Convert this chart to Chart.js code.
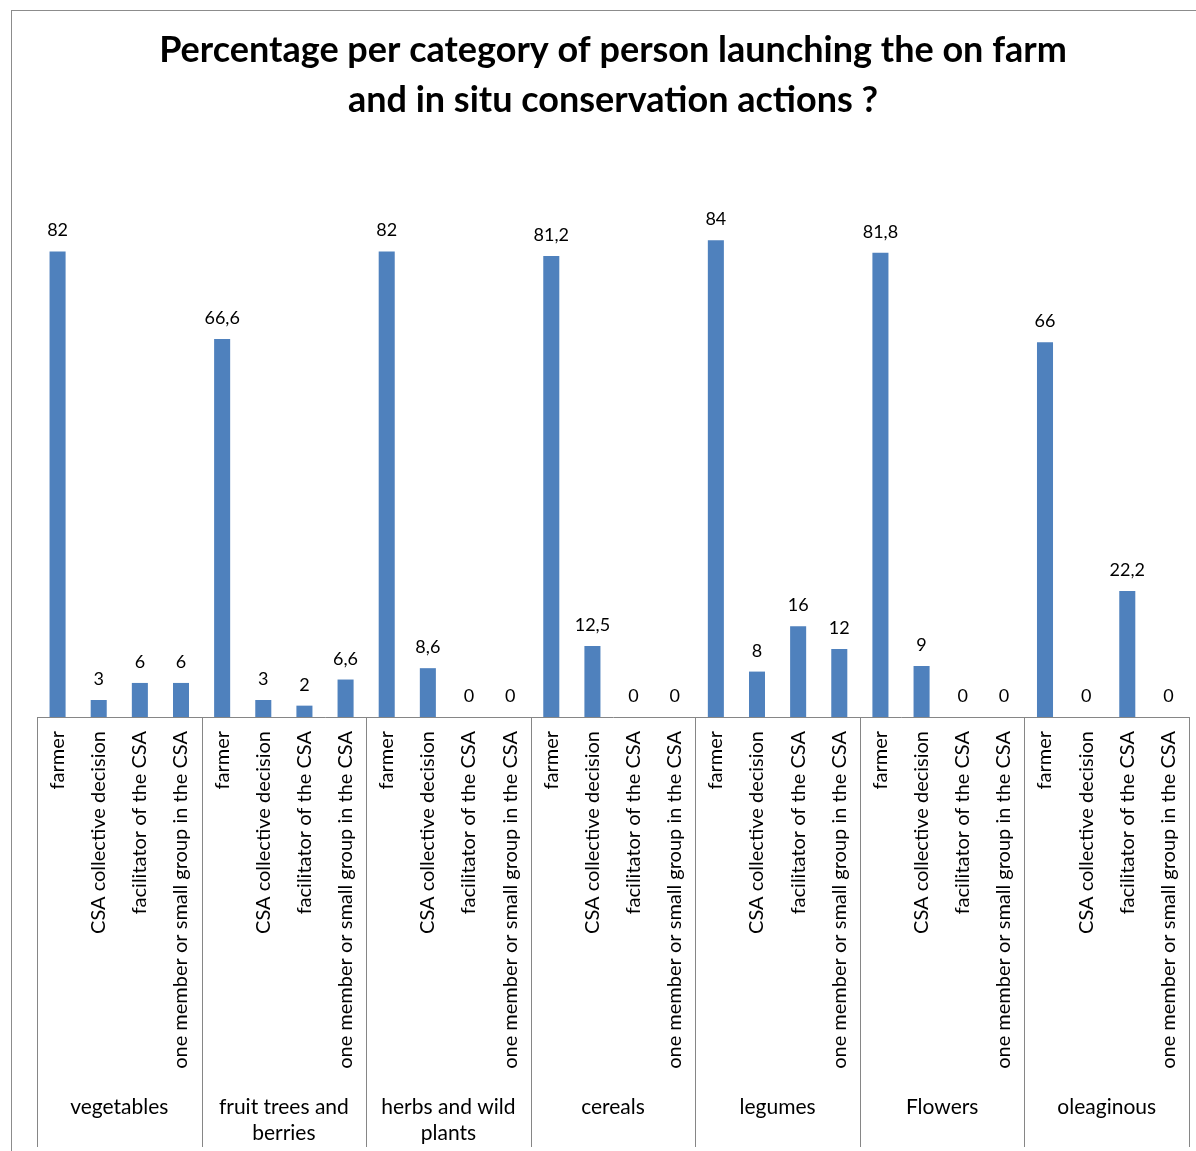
<!DOCTYPE html>
<html>
<head>
<meta charset="utf-8">
<script src="https://cdn.jsdelivr.net/npm/chart.js@4.4.1/dist/chart.umd.min.js"></script>
<style>
  html, body { margin: 0; padding: 0; background: #ffffff; }
  canvas { display: block; }
</style>
</head>
<body>
<canvas id="chart" width="1196" height="1151"></canvas>
<script>
// Crop groups (outer axis labels) and who launched the action (inner axis labels)
const groupLabels = [
  ['vegetables'],
  ['fruit trees and', 'berries'],
  ['herbs and wild', 'plants'],
  ['cereals'],
  ['legumes'],
  ['Flowers'],
  ['oleaginous']
];
const roleLabels = [
  'farmer',
  'CSA collective decision',
  'facilitator of the CSA',
  'one member or small group in the CSA'
];

// Percentages per group, in the order of roleLabels
const vegetables = [82, 3, 6, 6];
const fruitTreesBerries = [66.6, 3, 2, 6.6];
const herbsWildPlants = [82, 8.6, 0, 0];
const cereals = [81.2, 12.5, 0, 0];
const legumes = [84, 8, 16, 12];
const flowers = [81.8, 9, 0, 0];
const oleaginous = [66, 0, 22.2, 0];

const titleLines = [
  'Percentage per category of person launching the on farm',
  'and in situ conservation actions ?'
];

const seriesByGroup = [vegetables, fruitTreesBerries, herbsWildPlants, cereals, legumes, flowers, oleaginous];
const values = seriesByGroup.flat();
const innerLabels = seriesByGroup.flatMap(() => roleLabels);

const FONT = 'Lato, "Open Sans", sans-serif';
const LINE = '#868686';

// White background and the thin outer frame of the chart
const framePlugin = {
  id: 'frame',
  beforeDraw(chart) {
    const ctx = chart.ctx;
    ctx.save();
    ctx.fillStyle = '#ffffff';
    ctx.fillRect(0, 0, chart.width, chart.height);
    ctx.strokeStyle = '#8c8c8c';
    ctx.lineWidth = 1;
    ctx.strokeRect(11.5, 10.5, chart.width + 40, chart.height + 40);
    ctx.restore();
  }
};

// Axis line and the vertical separators between crop groups
const groupLinesPlugin = {
  id: 'groupLines',
  afterDraw(chart) {
    const xs = chart.scales.x;
    const xg = chart.scales.x2;
    const ctx = chart.ctx;
    const step = xg.getPixelForValue(1) - xg.getPixelForValue(0);
    const first = xg.getPixelForValue(0) - step / 2;
    const yTop = Math.round(xs.top) + 0.5;
    ctx.save();
    ctx.strokeStyle = LINE;
    ctx.lineWidth = 1;
    ctx.beginPath();
    ctx.moveTo(Math.round(first), yTop);
    ctx.lineTo(Math.round(first + step * groupLabels.length) + 1, yTop);
    for (let g = 0; g <= groupLabels.length; g++) {
      const px = Math.round(first + g * step) + 0.5;
      ctx.moveTo(px, yTop);
      ctx.lineTo(px, xg.bottom - 4);
    }
    ctx.stroke();
    ctx.restore();
  }
};

// Value labels above each bar, with a decimal comma
const valueLabelPlugin = {
  id: 'valueLabels',
  afterDatasetsDraw(chart) {
    const ctx = chart.ctx;
    const ds = chart.data.datasets[0];
    const meta = chart.getDatasetMeta(0);
    ctx.save();
    ctx.fillStyle = '#000000';
    ctx.font = '18px ' + FONT;
    ctx.textAlign = 'center';
    ctx.textBaseline = 'alphabetic';
    meta.data.forEach((bar, i) => {
      const text = String(ds.data[i]).replace('.', ',');
      ctx.fillText(text, bar.x, bar.y - 15);
    });
    ctx.restore();
  }
};

new Chart(document.getElementById('chart'), {
  type: 'bar',
  data: {
    labels: innerLabels,
    datasets: [{
      data: values,
      backgroundColor: '#4F81BD',
      borderWidth: 0,
      barPercentage: 0.39,
      categoryPercentage: 1.0,
      xAxisID: 'x',
      yAxisID: 'y'
    }]
  },
  options: {
    responsive: false,
    animation: false,
    events: [],
    layout: { padding: { left: 37, right: 7, top: 0, bottom: 0 } },
    plugins: {
      legend: { display: false },
      tooltip: { enabled: false },
      title: {
        display: true,
        text: titleLines,
        color: '#000000',
        font: { family: FONT, size: 36, weight: 'bold', lineHeight: 1.39 },
        padding: { top: 25, bottom: 81 }
      }
    },
    scales: {
      y: {
        display: false,
        min: 0,
        max: 90
      },
      x: {
        type: 'category',
        position: 'bottom',
        weight: 0,
        offset: true,
        grid: { display: false, drawTicks: false },
        border: { display: false },
        ticks: {
          autoSkip: false,
          minRotation: 90,
          maxRotation: 90,
          padding: 14,
          color: '#000000',
          font: { family: FONT, size: 20 }
        },
        afterFit(scale) {
          scale.height = 373;
          scale.paddingLeft = 0;
          scale.paddingRight = 0;
        }
      },
      x2: {
        type: 'category',
        labels: groupLabels,
        position: 'bottom',
        weight: 1,
        offset: true,
        grid: { display: false, drawTicks: false },
        border: { display: false },
        ticks: {
          autoSkip: false,
          minRotation: 0,
          maxRotation: 0,
          padding: 5,
          color: '#000000',
          font: { family: FONT, size: 21, lineHeight: 1.2 }
        },
        afterFit(scale) {
          scale.height = 61;
          scale.paddingLeft = 0;
          scale.paddingRight = 0;
        }
      }
    }
  },
  plugins: [framePlugin, groupLinesPlugin, valueLabelPlugin]
});
</script>
</body>
</html>
